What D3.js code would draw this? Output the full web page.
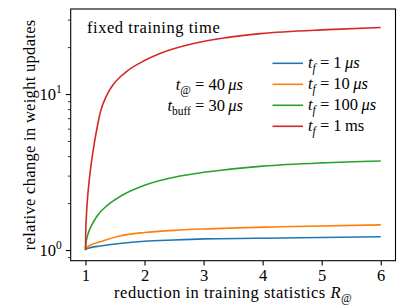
<!DOCTYPE html>
<html>
<head>
<meta charset="utf-8">
<script src="https://d3js.org/d3.v7.min.js"></script>
<style>
body { margin: 0; background: white; }
svg { display: block; }
</style>
</head>
<body>
<svg width="411" height="308" font-family="'Liberation Serif', 'DejaVu Serif', serif"></svg>
<script>

// values: R (reduction in training statistics) vs relative change
let r1us = [1.0, 1.02, 1.05, 1.1, 1.25, 1.58, 2.0, 2.5, 3.0, 4.3, 6.0];
let v1us = [1.0, 1.018, 1.028, 1.04, 1.06, 1.10, 1.137, 1.16, 1.178, 1.195, 1.216];

let r10us = [1.0, 1.02, 1.05, 1.1, 1.25, 1.58, 2.0, 2.5, 3.0, 4.3, 6.0];
let v10us = [1.0, 1.036, 1.057, 1.082, 1.13, 1.23, 1.295, 1.337, 1.365, 1.41, 1.45];

let r100us = [1.0, 1.005, 1.02, 1.05, 1.1, 1.2, 1.36, 1.5, 1.6, 2.0, 2.6, 3.3, 4.0, 5.0, 6.0];
let v100us = [1.0, 1.08, 1.17, 1.29, 1.43, 1.66, 1.92, 2.10, 2.22, 2.6, 2.98, 3.25, 3.45, 3.62, 3.72];

let r1ms = [1.0, 1.005, 1.01, 1.02, 1.04, 1.07, 1.1, 1.15, 1.2, 1.25, 1.36, 1.47, 1.6, 1.7, 2.0, 2.26, 2.83, 3.39, 3.96, 5.1, 6.0];
let v1ms = [1.0, 1.33, 1.5, 1.78, 2.26, 2.94, 3.63, 4.85, 6.17, 7.6, 9.8, 11.5, 13.0, 14.0, 16.4, 18.2, 21.1, 23.0, 24.4, 25.9, 26.7];

let seriesR = [r1us, r10us, r100us, r1ms];
let seriesV = [v1us, v10us, v100us, v1ms];
let tfValues = ["1", "10", "100", "1"];
let tfUnits = ["μs", "μs", "μs", "ms"];
let colors = ["#1f77b4", "#ff7f0e", "#2ca02c", "#d62728"];

let xTicks = [1, 2, 3, 4, 5, 6];
let yMajor = [1, 10];
let yMajorExp = ["0", "1"];
let yMinor = [0.9, 2, 3, 4, 5, 6, 7, 8, 9, 20, 30];

let plotLeft = 70.7, plotRight = 395.5, plotTop = 9, plotBottom = 260.7;
let fs = 16.5;

let svg = d3.select("svg");

let x = d3.scaleLinear().domain([0.75, 6.25]).range([plotLeft, plotRight]);
let y = d3.scaleLog().domain([0.854, 35.1]).range([plotBottom, plotTop]);

// x axis
let xAxis = svg.append("g")
  .attr("transform", "translate(0," + plotBottom + ")")
  .call(d3.axisBottom(x).tickValues(xTicks).tickFormat(d3.format("d"))
    .tickSize(4.9).tickPadding(3.5));
xAxis.attr("font-family", null).attr("font-size", fs);
xAxis.select(".domain").remove();
xAxis.selectAll("line").attr("stroke", "#000").attr("stroke-width", 1.1);

// y axis, major ticks
let yAxis = svg.append("g")
  .attr("transform", "translate(" + plotLeft + ",0)")
  .call(d3.axisLeft(y).tickValues(yMajor).tickFormat("").tickSize(4.9));
yAxis.select(".domain").remove();
yAxis.selectAll("line").attr("stroke", "#000").attr("stroke-width", 1.1);
yAxis.selectAll(".tick text").remove();

// y axis, minor ticks
let yMinorAxis = svg.append("g")
  .attr("transform", "translate(" + plotLeft + ",0)")
  .call(d3.axisLeft(y).tickValues(yMinor).tickFormat("").tickSize(2.8));
yMinorAxis.select(".domain").remove();
yMinorAxis.selectAll("line").attr("stroke", "#000").attr("stroke-width", 0.8);

// y tick labels as 10^n
yMajor.forEach(function(v, i) {
  let t = svg.append("text")
    .attr("x", plotLeft - 9)
    .attr("y", y(v) + 5.5)
    .attr("text-anchor", "end")
    .attr("font-size", fs);
  t.append("tspan").text("10");
  t.append("tspan").attr("dy", -6.5).attr("font-size", 11.5).text(yMajorExp[i]);
});

// curves
let line = d3.line()
  .x(d => x(d[0]))
  .y(d => y(d[1]))
  .curve(d3.curveMonotoneX);

seriesR.forEach(function(rs, i) {
  let pts = rs.map((r, j) => [r, seriesV[i][j]]);
  svg.append("path")
    .attr("d", line(pts))
    .attr("fill", "none")
    .attr("stroke", colors[i])
    .attr("stroke-width", 1.6);
});

// frame
svg.append("rect")
  .attr("x", plotLeft).attr("y", plotTop)
  .attr("width", plotRight - plotLeft).attr("height", plotBottom - plotTop)
  .attr("fill", "none")
  .attr("stroke", "#000")
  .attr("stroke-width", 1.1);

// axis labels
svg.append("text")
  .attr("x", (plotLeft + plotRight) / 2)
  .attr("y", 298)
  .attr("text-anchor", "middle")
  .attr("font-size", fs)
  .attr("letter-spacing", 0.5)
  .call(function(t) {
    t.append("tspan").text("reduction in training statistics ");
    t.append("tspan").attr("font-style", "italic").text("R");
    t.append("tspan").attr("font-style", "italic").attr("font-size", 11.5).attr("dy", 4).text("@");
  });

svg.append("text")
  .attr("transform", "translate(35," + ((plotTop + plotBottom) / 2) + ") rotate(-90)")
  .attr("text-anchor", "middle")
  .attr("font-size", fs)
  .attr("letter-spacing", 0.3)
  .text("relative change in weight updates");

// annotations
svg.append("text")
  .attr("x", 87).attr("y", 33)
  .attr("font-size", fs)
  .attr("letter-spacing", 0.55)
  .text("fixed training time");

function mathLabel(xp, yp, anchor, sub, value, unit, upright) {
  let t = svg.append("text")
    .attr("x", xp).attr("y", yp)
    .attr("text-anchor", anchor)
    .attr("font-size", fs);
  t.append("tspan").attr("font-style", "italic").text("t");
  t.append("tspan").attr("font-size", 11.5).attr("dy", 4)
    .attr("font-style", sub == "f" ? "italic" : "normal").text(sub);
  t.append("tspan").attr("dy", -4).text(" = " + value + "\u2009");
  t.append("tspan").attr("font-style", upright ? "normal" : "italic").text(unit);
  return t;
}

mathLabel(243, 90, "end", "@", "40", "μs", false);
mathLabel(243, 111, "end", "buff", "30", "μs", false);

// legend
let legendY = [63.3, 84.3, 105.3, 126.3];
colors.forEach(function(c, i) {
  svg.append("line")
    .attr("x1", 272.5).attr("x2", 303)
    .attr("y1", legendY[i]).attr("y2", legendY[i])
    .attr("stroke", c)
    .attr("stroke-width", 1.6);
  mathLabel(308, legendY[i] + 5, "start", "f", tfValues[i], tfUnits[i], tfUnits[i] == "ms");
});

</script>
</body>
</html>
